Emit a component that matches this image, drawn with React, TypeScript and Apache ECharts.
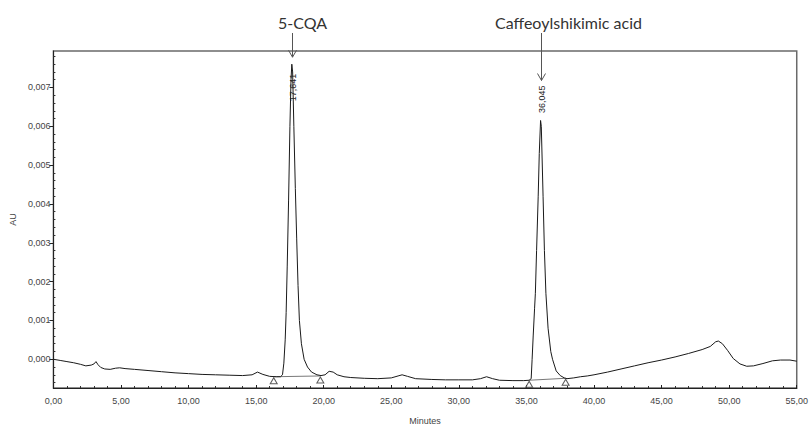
import React, { useEffect, useRef } from "react";
import * as echarts from "echarts";

// Retention time (minutes) and absorbance (AU) of the trace
const times = [
  0.0, 0.5, 1.0, 1.5, 2.0, 2.4, 2.8, 3.0, 3.15, 3.3, 3.5, 3.8, 4.2, 4.6, 4.9, 5.3, 6.0, 7.0, 8.0, 9.0,
  10.0, 11.0, 12.0, 13.0, 14.0, 14.7, 15.1, 15.5, 16.0, 16.5,
  16.8, 16.95, 17.05, 17.15, 17.22, 17.3, 17.4, 17.5, 17.58, 17.64, 17.7, 17.79, 17.9, 18.0, 18.1, 18.2,
  18.35, 18.55, 18.8, 19.1, 19.5, 19.8,
  20.1, 20.4, 20.7, 21.0, 21.5, 22.0, 23.0, 24.0, 25.0, 25.5, 25.8, 26.2, 26.8, 28.0, 29.0, 30.0, 31.0,
  31.6, 32.05, 32.5, 33.0, 34.0, 34.8,
  35.2, 35.35, 35.42, 35.5, 35.6, 35.66, 35.75, 35.87, 35.95, 36.045, 36.1, 36.23, 36.33, 36.44, 36.6,
  36.8, 36.93, 37.2, 37.5, 37.8, 38.0,
  38.5, 39.0, 39.5, 40.0, 41.0, 42.0, 43.0, 44.0, 45.0, 46.0, 47.0, 48.0, 48.6, 49.0, 49.2, 49.5, 49.9,
  50.3, 50.8, 51.3, 51.8, 52.5, 53.2, 53.8, 54.5, 55.0,
];
const absorbance = [
  0.0, -0.00003, -0.00006, -0.00009, -0.00013, -0.00017, -0.00015, -0.00012, -0.00006, -0.00014, -0.00021,
  -0.00025, -0.00026, -0.00023, -0.00022, -0.00024, -0.00026, -0.00029, -0.00032, -0.00035,
  -0.00037, -0.00039, -0.0004, -0.00041, -0.00042, -0.0004, -0.00033, -0.00039, -0.00044, -0.00045,
  -0.00045, -0.0004, -0.0001, 0.0005, 0.0012, 0.0024, 0.0041, 0.006, 0.0072, 0.0076, 0.0074, 0.006,
  0.0044, 0.0031, 0.0019, 0.001, 0.0004, 0.0, -0.0002, -0.00033, -0.0004, -0.00042,
  -0.0004, -0.00031, -0.00033, -0.0004, -0.00045, -0.00047, -0.00049, -0.0005, -0.00048, -0.00043,
  -0.0004, -0.00044, -0.0005, -0.00052, -0.00053, -0.00053, -0.00053,
  -0.0005, -0.00045, -0.0005, -0.00054, -0.00055, -0.00055,
  -0.00054, -0.0005, 0.0, 0.0006, 0.0013, 0.0017, 0.0028, 0.0042, 0.0053, 0.00615, 0.006, 0.0042, 0.0028,
  0.0017, 0.0008, 0.0002, 0.0, -0.0003, -0.00042, -0.00048, -0.0005,
  -0.00048, -0.00045, -0.00043, -0.0004, -0.00033, -0.00025, -0.00017, -0.00009, -0.00002, 0.00006,
  0.00015, 0.00025, 0.00033, 0.00045, 0.00047, 0.0004, 0.00022,
  0.00002, -0.00012, -0.00018, -0.00017, -0.00011, -0.00004, -0.00002, -0.00002, -0.00005,
];

// Integration start/end markers (triangles)
const markerTimes = [16.3, 19.75, 35.2, 37.9];
const markerValues = [-0.00045, -0.00043, -0.00054, -0.00049];

// Identified peaks
const peakNames = ["5-CQA", "Caffeoylshikimic acid"];
const peakTimes = [17.641, 36.045];
const peakTimeLabels = ["17,641", "36,045"];
const peakLabelValues = [0.007, 0.0067];
const peakArrowTipValues = [0.00778, 0.00718];

// Axis ticks
const yTickValues = [0, 0.001, 0.002, 0.003, 0.004, 0.005, 0.006, 0.007];
const yMinorTickValues = [
  -0.0006, -0.0004, -0.0002, 0.0002, 0.0004, 0.0006, 0.0008, 0.0012, 0.0014, 0.0016, 0.0018, 0.0022,
  0.0024, 0.0026, 0.0028, 0.0032, 0.0034, 0.0036, 0.0038, 0.0042, 0.0044, 0.0046, 0.0048, 0.0052,
  0.0054, 0.0056, 0.0058, 0.0062, 0.0064, 0.0066, 0.0068, 0.0072, 0.0074, 0.0076, 0.0078,
];
const xMin = 0;
const xMax = 55;
const xInterval = 5;
const yMin = -0.00074;
const yMax = 0.00794;

const FONT = "'Liberation Sans', Arial, sans-serif";
const TITLE_FONT = "Lato, 'Noto Sans', sans-serif";
const nameOffsets = [10, 27];

export default function App() {
  const ref = useRef<HTMLDivElement>(null);
  useEffect(() => {
    if (!ref.current) return;
    const chart = echarts.init(ref.current, undefined, { renderer: "svg" });
    const trace = times.map((t, i) => [t, absorbance[i]]);
    const markers = markerTimes.map((t, i) => [t, markerValues[i]]);
    const option: any = {
      animation: false,
      backgroundColor: "#ffffff",
      grid: {
        left: 48,
        right: 8,
        top: 51,
        bottom: 32,
        show: true,
        borderColor: "#6a6a6a",
        borderWidth: 1.5,
        backgroundColor: "transparent",
      },
      xAxis: {
        type: "value",
        min: xMin,
        max: xMax,
        interval: xInterval,
        name: "Minutes",
        nameLocation: "middle",
        nameGap: 28,
        nameTextStyle: { fontFamily: FONT, fontSize: 9, color: "#444" },
        axisLine: { onZero: false, lineStyle: { color: "#222", width: 1 } },
        axisTick: { show: true, inside: true, length: 3, lineStyle: { color: "#222" } },
        minorTick: { show: true, splitNumber: 5, length: 2, lineStyle: { color: "#333" } },
        splitLine: { show: false },
        axisLabel: {
          fontFamily: FONT,
          fontSize: 9,
          color: "#444",
          margin: 8,
          formatter: (v: number) => v.toFixed(2).replace(".", ","),
        },
      },
      yAxis: [
        {
          type: "value",
          min: yMin,
          max: yMax,
          name: "AU",
          nameLocation: "middle",
          nameGap: 34,
          nameRotate: 90,
          nameTextStyle: { fontFamily: FONT, fontSize: 9, color: "#444" },
          axisLine: { show: true, onZero: false, lineStyle: { color: "#222", width: 1 } },
          axisTick: {
            show: true,
            length: 4,
            customValues: yTickValues,
            lineStyle: { color: "#222" },
          },
          splitLine: { show: false },
          axisLabel: {
            fontFamily: FONT,
            fontSize: 9,
            color: "#444",
            margin: 3,
            customValues: yTickValues,
            formatter: (v: number) => v.toFixed(3).replace(".", ","),
          },
        },
        {
          type: "value",
          min: yMin,
          max: yMax,
          position: "left",
          axisLine: { show: false, onZero: false },
          axisTick: {
            show: true,
            inside: true,
            length: 2,
            customValues: yMinorTickValues,
            lineStyle: { color: "#333" },
          },
          axisLabel: { show: false },
          splitLine: { show: false },
        },
      ],
      series: [
        {
          type: "line",
          data: trace,
          showSymbol: false,
          symbol: "none",
          lineStyle: { color: "#1a1a1a", width: 1 },
          z: 3,
        },
        {
          type: "line",
          data: [markers[0], markers[1]],
          symbol: "none",
          lineStyle: { color: "#555", width: 0.8 },
          z: 2,
        },
        {
          type: "line",
          data: [markers[2], markers[3]],
          symbol: "none",
          lineStyle: { color: "#555", width: 0.8 },
          z: 2,
        },
        {
          type: "scatter",
          data: markers,
          symbol: "triangle",
          symbolSize: [7, 6],
          symbolOffset: [0, 4],
          itemStyle: { color: "#ffffff", borderColor: "#333", borderWidth: 1 },
          z: 4,
        },
      ],
    };
    chart.setOption(option);

    const graphics: any[] = [];
    peakTimes.forEach((t, i) => {
      const [px] = chart.convertToPixel({ gridIndex: 0 }, [t, 0]);
      const tipY = chart.convertToPixel({ gridIndex: 0 }, [t, peakArrowTipValues[i]])[1];
      const labY = chart.convertToPixel({ gridIndex: 0 }, [t, peakLabelValues[i]])[1];
      const x = Math.round(px) + 0.5;
      graphics.push({
        type: "text",
        x: x + nameOffsets[i],
        y: 22,
        style: {
          text: peakNames[i],
          fontFamily: TITLE_FONT,
          fontSize: 16,
          fill: "#333",
          align: "center",
          verticalAlign: "middle",
        },
        z: 10,
      });
      graphics.push({
        type: "line",
        shape: { x1: x, y1: 33, x2: x, y2: tipY },
        style: { stroke: "#555", lineWidth: 1 },
        z: 10,
      });
      graphics.push({
        type: "polyline",
        shape: { points: [[x - 4, tipY - 7], [x, tipY], [x + 4, tipY - 7]] },
        style: { stroke: "#555", lineWidth: 1, fill: "none" },
        z: 10,
      });
      graphics.push({
        type: "text",
        x: x,
        y: labY,
        rotation: Math.PI / 2,
        style: {
          text: peakTimeLabels[i],
          fontFamily: FONT,
          fontSize: 9,
          fill: "#222",
          align: "center",
          verticalAlign: "middle",
        },
        z: 10,
      });
    });
    chart.setOption({ graphic: graphics });

    return () => chart.dispose();
  }, []);
  return (
    <div
      ref={ref}
      style={{ position: "fixed", left: 0, top: 0, width: 811, height: 430, background: "#fff" }}
    />
  );
}
